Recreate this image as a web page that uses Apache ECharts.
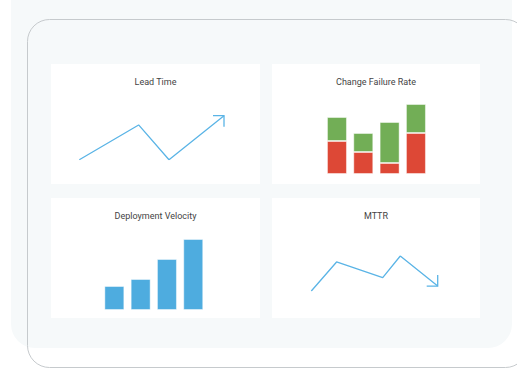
<!DOCTYPE html>
<html>
<head>
<meta charset="utf-8">
<script src="https://cdn.jsdelivr.net/npm/echarts@6/dist/echarts.min.js"></script>
<style>
html,body{margin:0;padding:0;background:#ffffff;}
#chart{width:517px;height:368px;}
</style>
</head>
<body>
<div id="chart"></div>
<script>
// ---- data ----
const panelTitles = ['Lead Time', 'Change Failure Rate', 'Deployment Velocity', 'MTTR'];

const leadTimeX = [0, 4.1, 6.2, 10];
const leadTimeY = [0, 7.9, 0, 10];

const failureCategories = ['Q1', 'Q2', 'Q3', 'Q4'];
const failureFailed = [33, 22, 11, 41];
const failureOk = [24, 19, 41, 29];

const velocityCategories = ['Q1', 'Q2', 'Q3', 'Q4'];
const velocityValues = [24, 31, 51, 71];

const mttrX = [0, 2.0, 5.65, 7.04, 10];
const mttrY = [0, 8.3, 3.8, 10, 1.4];

// ---- styles ----
const LINE = '#5ab4e6';
const BLUE = '#4eacdf';
const RED = '#dd4836';
const GREEN = '#72ae56';
const TEXT = '#444444';
const FONT = 'Roboto, "Liberation Sans", sans-serif';

function pairs(xs, ys) { return xs.map((x, i) => [x, ys[i]]); }

function arrowHead(dir) {
  return function (params, api) {
    const p = api.coord([api.value(0), api.value(1)]);
    const L = 11;
    return {
      type: 'polyline',
      shape: { points: [[p[0] - L, p[1]], [p[0], p[1]], [p[0], p[1] + dir * L]] },
      style: { stroke: LINE, lineWidth: 1.3, fill: null }
    };
  };
}

const panels = [
  { x: 51, y: 64, w: 209, h: 120 },
  { x: 272, y: 64, w: 208, h: 120 },
  { x: 51, y: 198, w: 209, h: 120 },
  { x: 272, y: 198, w: 208, h: 120 }
];

const graphics = [
  { type: 'rect', z: -10, shape: { x: 11, y: -30, width: 501, height: 378, r: 24 }, style: { fill: '#f6f9fa' } },
  { type: 'rect', z: -9, shape: { x: 27.5, y: 19.5, width: 500, height: 348, r: 22 }, style: { fill: null, stroke: '#c6cacd', lineWidth: 1 } }
];
panels.forEach((p, i) => {
  graphics.push({ type: 'rect', z: -8, shape: { x: p.x, y: p.y, width: p.w, height: p.h }, style: { fill: '#ffffff' } });
  graphics.push({
    type: 'text', z: 10, x: p.x + p.w / 2, y: p.y + 18,
    style: { text: panelTitles[i], fill: TEXT, font: '9px ' + FONT, textAlign: 'center', textVerticalAlign: 'middle' }
  });
});

const hiddenVal = (min, max) => ({ type: 'value', min, max, show: false, splitLine: { show: false } });

const option = {
  animation: false,
  backgroundColor: '#ffffff',
  graphic: graphics,
  grid: [
    { left: 79.3, top: 115.7, width: 144.7, height: 44 },
    { left: 323.8, top: 104, width: 105.3, height: 70 },
    { left: 101.2, top: 239, width: 105.2, height: 71 },
    { left: 311.3, top: 256, width: 126.4, height: 35 }
  ],
  xAxis: [
    Object.assign(hiddenVal(0, 10), { gridIndex: 0 }),
    { type: 'category', data: failureCategories, gridIndex: 1, show: false },
    { type: 'category', data: velocityCategories, gridIndex: 2, show: false },
    Object.assign(hiddenVal(0, 10), { gridIndex: 3 })
  ],
  yAxis: [
    Object.assign(hiddenVal(0, 10), { gridIndex: 0 }),
    Object.assign(hiddenVal(0, 70), { gridIndex: 1 }),
    Object.assign(hiddenVal(0, 71), { gridIndex: 2 }),
    Object.assign(hiddenVal(0, 10), { gridIndex: 3 })
  ],
  series: [
    {
      type: 'line', xAxisIndex: 0, yAxisIndex: 0, data: pairs(leadTimeX, leadTimeY),
      symbol: 'none', lineStyle: { color: LINE, width: 1.3 }
    },
    {
      type: 'custom', xAxisIndex: 0, yAxisIndex: 0,
      data: [[leadTimeX[leadTimeX.length - 1], leadTimeY[leadTimeY.length - 1]]],
      renderItem: arrowHead(1)
    },
    {
      type: 'bar', xAxisIndex: 1, yAxisIndex: 1, stack: 'cfr', data: failureFailed, barWidth: 20,
      itemStyle: { color: RED, borderColor: 'rgba(255,255,255,0.45)', borderWidth: 1 }
    },
    {
      type: 'bar', xAxisIndex: 1, yAxisIndex: 1, stack: 'cfr', data: failureOk, barWidth: 20,
      itemStyle: { color: GREEN, borderColor: 'rgba(255,255,255,0.45)', borderWidth: 1 }
    },
    {
      type: 'bar', xAxisIndex: 2, yAxisIndex: 2, data: velocityValues, barWidth: 20,
      itemStyle: { color: BLUE, borderColor: 'rgba(255,255,255,0.45)', borderWidth: 1 }
    },
    {
      type: 'line', xAxisIndex: 3, yAxisIndex: 3, data: pairs(mttrX, mttrY),
      symbol: 'none', lineStyle: { color: LINE, width: 1.3 }
    },
    {
      type: 'custom', xAxisIndex: 3, yAxisIndex: 3,
      data: [[mttrX[mttrX.length - 1], mttrY[mttrY.length - 1]]],
      renderItem: arrowHead(-1)
    }
  ]
};

const chart = echarts.init(document.getElementById('chart'), null, { renderer: 'svg' });
chart.setOption(option);
</script>
</body>
</html>
